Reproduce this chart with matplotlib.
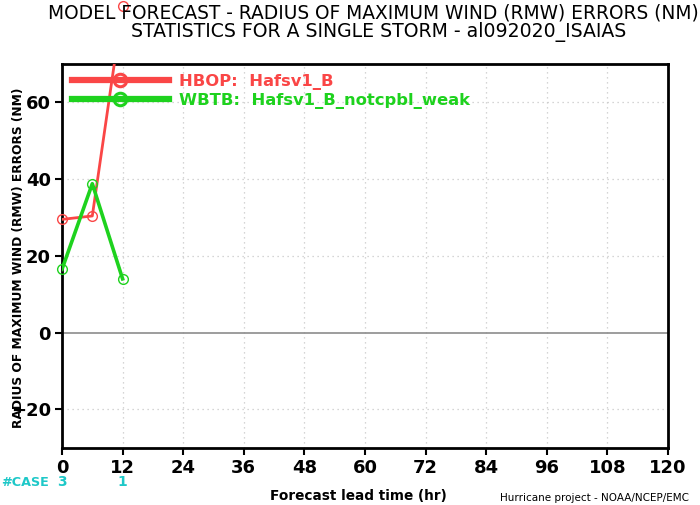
import matplotlib
matplotlib.use("Agg")
import matplotlib.pyplot as plt
import matplotlib.transforms as mtransforms
from matplotlib.lines import Line2D

plt.rcParams['font.family'] = ['DejaVu Sans']

# data
lead_hr = [0, 6, 12]
hbop_err = [29.5, 30.4, 85.0]
wbtb_err = [16.5, 38.8, 14.0]
case_hr = [0, 12]
case_cnt = ['3', '1']

x_ticks = list(range(0, 121, 12))
y_ticks = [-20, 0, 20, 40, 60]

red = '#fa4646'
green = '#1ed21e'
cyan = '#1ec8c8'

fig = plt.figure(figsize=(7, 5.05), dpi=100)
ax = fig.add_axes([62 / 700, 57.3 / 505, 606 / 700, 383.7 / 505])

ax.set_xlim(0, 120)
ax.set_ylim(-30, 70)

# grid + zero line
for xv in x_ticks[1:-1]:
    ax.axvline(xv, color='#c8c8c8', lw=0.9, ls=(0, (1, 3)), zorder=1)
for yv in y_ticks:
    if yv != 0:
        ax.axhline(yv, color='#c8c8c8', lw=0.9, ls=(0, (1, 3)), zorder=1)
ax.axhline(0, color='#8c8c8c', lw=1.2, zorder=1)

# series lines (clipped) and markers (not clipped)
ax.plot(lead_hr, hbop_err, color=red, lw=2.0, zorder=3)
ax.plot(lead_hr, hbop_err, ls='none', marker='o', ms=7, mfc='none', mec=red,
        mew=1.0, clip_on=False, zorder=4)
ax.plot(lead_hr, wbtb_err, color=green, lw=2.6, zorder=3)
ax.plot(lead_hr, wbtb_err, ls='none', marker='o', ms=7, mfc='none', mec=green,
        mew=1.0, clip_on=False, zorder=4)

# legend
handles = [
    Line2D([], [], color=red, lw=4.5, marker='o', ms=9, mfc='none', mec=red, mew=2.2),
    Line2D([], [], color=green, lw=4.5, marker='o', ms=9, mfc='none', mec=green, mew=2.2),
]
labels = ['HBOP:  Hafsv1_B', 'WBTB:  Hafsv1_B_notcpbl_weak']
leg = ax.legend(handles, labels, loc='upper left', frameon=False, numpoints=1,
                handlelength=5.9, handletextpad=0.65, labelspacing=0.2,
                borderaxespad=0.3, borderpad=0.3,
                prop={'size': 11.8, 'weight': 'bold'}, labelcolor='linecolor')

# axes styling
for s in ax.spines.values():
    s.set_linewidth(2.0)
ax.set_xticks(x_ticks)
ax.set_yticks(y_ticks)
ax.tick_params(direction='out', length=5, width=1.5, labelsize=13, pad=3)
for lab in ax.get_xticklabels() + ax.get_yticklabels():
    lab.set_fontweight('bold')

# #CASE row
case_y = 1 - 482 / 505
trans = mtransforms.blended_transform_factory(ax.transData, fig.transFigure)
fig.text(1 / 700, case_y, '#CASE', color=cyan, fontsize=9.2,
         fontweight='bold', va='center', ha='left')
for xv, c in zip(case_hr, case_cnt):
    ax.text(xv, case_y, c, transform=trans, color=cyan, fontsize=10,
            fontweight='bold', ha='center', va='center')

# titles and labels
fig.text(373 / 700, 1 - 13 / 505, 'MODEL FORECAST - RADIUS OF MAXIMUM WIND (RMW) ERRORS (NM)',
         ha='center', va='center', fontsize=13.4)
fig.text(379 / 700, 1 - 32 / 505, 'STATISTICS FOR A SINGLE STORM - al092020_ISAIAS',
         ha='center', va='center', fontsize=13.6)
fig.text(19 / 700, 1 - 258 / 505, 'RADIUS OF MAXIMUM WIND (RMW) ERRORS (NM)',
         rotation=90, ha='center', va='center', fontsize=8.8, fontweight='bold')
fig.text(358 / 700, 1 - 496 / 505, 'Forecast lead time (hr)', ha='center', va='center',
         fontsize=9.8, fontweight='bold')
fig.text(595 / 700, 1 - 498 / 505, 'Hurricane project - NOAA/NCEP/EMC', ha='center',
         va='center', fontsize=7.5)

fig.savefig('out.png', dpi=100)
